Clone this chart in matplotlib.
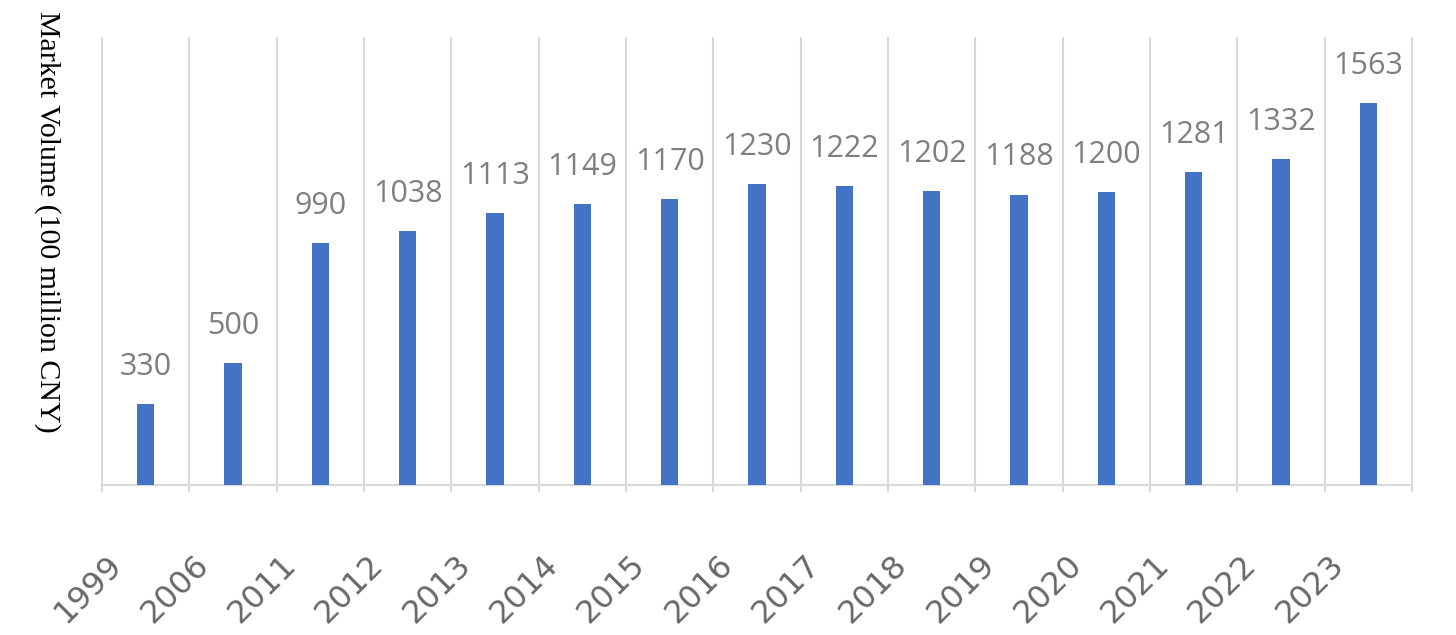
import matplotlib
matplotlib.use("Agg")
import matplotlib.pyplot as plt
import matplotlib.transforms as mtransforms
import numpy as np

years = ["1999", "2006", "2011", "2012", "2013", "2014", "2015", "2016",
         "2017", "2018", "2019", "2020", "2021", "2022", "2023"]
volume = [330, 500, 990, 1038, 1113, 1149, 1170, 1230, 1222, 1202, 1188,
          1200, 1281, 1332, 1563]
ylabel = "Market Volume (100 million CNY)"

bar_color = "#4472C4"
grid_color = "#d9d9d9"

fig = plt.figure(figsize=(14.56, 6.35), dpi=100)
ax = fig.add_axes([102 / 1456, 150 / 635, 1310 / 1456, 448 / 635])

x = np.arange(len(years))
ax.bar(x, volume, width=0.195, color=bar_color, zorder=3)
ax.set_xlim(-0.5, len(years) - 0.5)
ax.set_ylim(0, 1833)

# vertical separators between categories, running a bit under the baseline
bounds = np.arange(len(years) + 1) - 0.5
ax.vlines(bounds, -0.016, 1, transform=ax.get_xaxis_transform(),
          color=grid_color, lw=1.5, clip_on=False, zorder=1)

for s in ["top", "right", "left"]:
    ax.spines[s].set_visible(False)
ax.spines["bottom"].set_color(grid_color)
ax.spines["bottom"].set_linewidth(1.5)
ax.set_yticks([])

# value labels
for xi, v in zip(x, volume):
    ax.annotate(str(v), (xi, v), xytext=(0, 21), textcoords="offset points",
                ha="center", va="baseline", fontsize=22, color="#7f7f7f",
                family="Open Sans", annotation_clip=False)

ax.set_xticks(x)
ax.set_xticklabels(years, rotation=45, ha="right", va="center",
                   rotation_mode="anchor", fontsize=23, color="#686868",
                   family="DejaVu Sans")
ax.tick_params(axis="x", length=0, pad=54)
off = mtransforms.ScaledTranslation(-0.29, 0, fig.dpi_scale_trans)
for lab in ax.get_xticklabels():
    lab.set_transform(lab.get_transform() + off)

fig.text(47 / 1456, 1 - 222 / 635, ylabel, rotation=270, ha="center",
         va="center", fontsize=21.5, family="Liberation Serif", color="black")

fig.savefig("out.png", dpi=100)
